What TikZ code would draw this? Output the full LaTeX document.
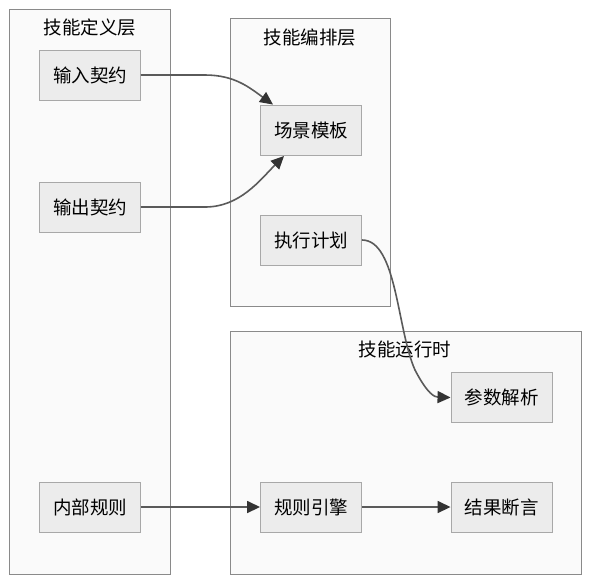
\documentclass[tikz,border=0pt]{standalone}
\usepackage{fontspec}
\setmainfont{Noto Sans CJK SC}
\usetikzlibrary{arrows.meta}
\definecolor{nodefill}{HTML}{ECECEC}
\definecolor{nodeline}{HTML}{A8A8A8}
\definecolor{clusterfill}{HTML}{FAFAFA}
\definecolor{clusterline}{HTML}{8A8A8A}
\definecolor{edgecol}{HTML}{5A5A5A}
\definecolor{tipcol}{HTML}{333333}
\begin{document}
\begin{tikzpicture}[x=1pt,y=-1pt,
  cluster/.style={draw=clusterline,fill=clusterfill,line width=0.9pt},
  ctitle/.style={font=\fontsize{18.5}{22}\selectfont,inner sep=0pt},
  box/.style={draw=nodeline,fill=nodefill,line width=0.9pt,minimum width=101pt,minimum height=50pt,inner sep=0pt,font=\fontsize{18.5}{22}\selectfont},
  edge/.style={draw=edgecol,line width=1.6pt,-{Triangle[length=13pt,width=12pt,color=tipcol]}}
]
\useasboundingbox (0,0) rectangle (591,582);
\fill[white] (0,0) rectangle (591,582);
% clusters
\draw[cluster] (9.5,9.5) rectangle (170.5,574.5);
\node[ctitle] (t1) at (90,27) {技能定义层};
\draw[cluster] (230.5,18.5) rectangle (390.5,306.5);
\node[ctitle] (t2) at (310,37) {技能编排层};
\draw[cluster] (230.5,331.5) rectangle (581.5,574.5);
\node[ctitle] (t3) at (405,349) {技能运行时};
% nodes
\node[box] (in) at (90,75) {输入契约};
\node[box] (out) at (90,207) {输出契约};
\node[box] (rule) at (90,507) {内部规则};
\node[box] (scene) at (311,130) {场景模板};
\node[box] (plan) at (311,240) {执行计划};
\node[box] (param) at (501.5,397.5) {参数解析};
\node[box] (engine) at (311,507) {规则引擎};
\node[box] (assert) at (501.5,507) {结果断言};
% edges
\coordinate (a2) at (284,156);
\draw[edge] (in.east |- 0,75) -- (205,75) .. controls (235,75) and (250,88) .. (scene.north west -| 273,0) ;
\draw[edge] (out.east |- 0,207) -- (205,207) .. controls (240,207) and (260,180) .. (a2);
\draw[edge] (plan.east) .. controls (397,240) and (397,330) .. (415,370) .. controls (428,395) and (435,397) .. (param.west);
\draw[edge] (rule) -- (engine);
\draw[edge] (engine) -- (assert);
\end{tikzpicture}
\end{document}
